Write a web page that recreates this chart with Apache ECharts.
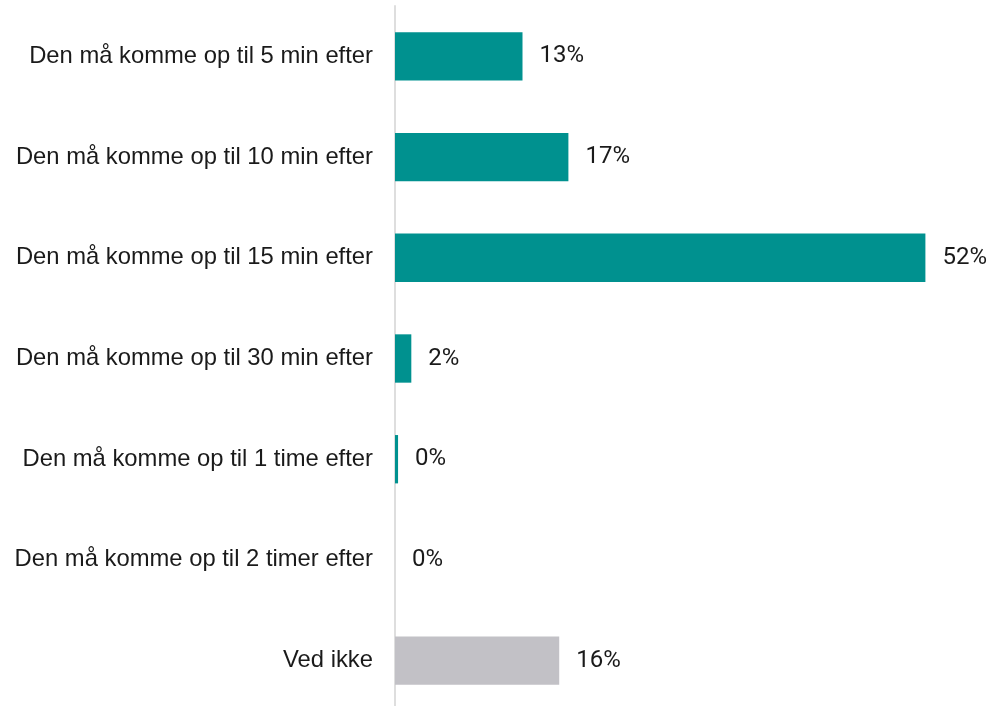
<!DOCTYPE html>
<html>
<head>
<meta charset="utf-8">
<style>
  html, body { margin: 0; padding: 0; background: #ffffff; }
  #chart { width: 991px; height: 706px; }
</style>
<script src="https://cdn.jsdelivr.net/npm/echarts@6/dist/echarts.min.js"></script>
</head>
<body>
<div id="chart"></div>
<script>
// Answer options, top to bottom
const categories = [
  'Den må komme op til 5 min efter',
  'Den må komme op til 10 min efter',
  'Den må komme op til 15 min efter',
  'Den må komme op til 30 min efter',
  'Den må komme op til 1 time efter',
  'Den må komme op til 2 timer efter',
  'Ved ikke'
];
// Share of respondents (%)
const shares = [12.5, 17.0, 52.0, 1.6, 0.3, 0.0, 16.1];
// The last option ("Ved ikke") is shown in grey
const barColors = ['#00918f', '#00918f', '#00918f', '#00918f', '#00918f', '#00918f', '#c2c1c6'];

const chart = echarts.init(document.getElementById('chart'), null, { renderer: 'canvas' });

chart.setOption({
  animation: false,
  backgroundColor: '#ffffff',
  grid: {
    left: 395, top: 6, width: 561, height: 705,
    containLabel: false,
    outerBoundsMode: 'none'
  },
  xAxis: {
    type: 'value',
    min: 0,
    max: 55,
    show: false
  },
  yAxis: {
    type: 'category',
    inverse: true,
    data: categories,
    axisLine: { show: true, lineStyle: { color: '#dedede', width: 2 } },
    axisTick: { show: false },
    axisLabel: {
      margin: 22,
      color: '#1a1a1a',
      fontFamily: '"Liberation Sans", Arial, sans-serif',
      fontSize: 23.8
    }
  },
  series: [{
    type: 'bar',
    data: shares.map((v, i) => ({ value: v, itemStyle: { color: barColors[i] } })),
    barCategoryGap: '52%',
    label: {
      show: true,
      position: 'right',
      distance: 17,
      color: '#1a1a1a',
      fontFamily: 'Roboto, sans-serif',
      fontSize: 24,
      formatter: p => Math.round(p.value) + '%'
    }
  }]
});
</script>
</body>
</html>
